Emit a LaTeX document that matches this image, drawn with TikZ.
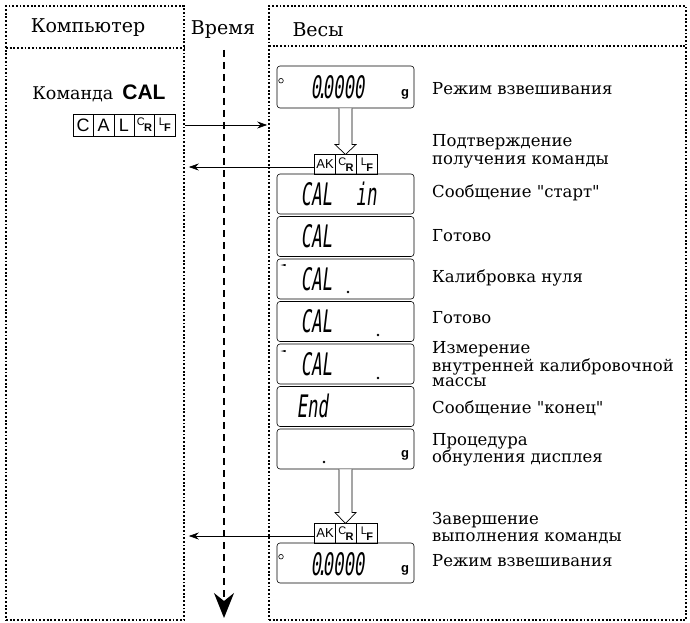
\documentclass[tikz,border=0pt]{standalone}
\usepackage{fontspec}
\setmainfont{DejaVu Serif}[Ligatures=TeXOff]
\newfontfamily\keyfont{Liberation Sans}
\newfontfamily\lcdfont[FakeSlant=0.12,FakeStretch=0.56]{DejaVu Sans Mono}
\usetikzlibrary{arrows.meta,positioning,calc}
\newcommand\ctrlpair[2]{\raisebox{3.5pt}{\fontsize{11}{11}\selectfont#1}\kern-0.8pt\raisebox{-2.5pt}{\fontsize{11}{11}\selectfont\bfseries#2}}

\begin{document}
\begin{tikzpicture}[
  x=1pt,y=-1pt,
  column/.style={draw,line width=1.6pt,dash pattern=on 1.8pt off 1.9pt,inner sep=0pt},
  timeline/.style={line width=1.8pt,dash pattern=on 7pt off 5pt,-{Stealth[length=25pt,width=20pt,inset=8pt]}},
  lcd/.style={draw,rounded corners=3pt,line width=0.6pt,minimum width=137pt,minimum height=40pt,inner sep=0pt},
  lcdtxt/.style={anchor=base west,inner sep=0pt,font=\lcdfont\fontsize{31}{31}\selectfont},
  unit/.style={inner sep=0pt,font=\keyfont\bfseries\fontsize{13}{13}\selectfont},
  key/.style={draw,line width=0.6pt,minimum width=20.4pt,minimum height=22pt,inner sep=0pt,outer sep=0pt,font=\keyfont\fontsize{18}{18}\selectfont},
  ack/.style={draw,line width=0.6pt,minimum width=21pt,minimum height=20pt,inner sep=0pt,outer sep=0pt,font=\keyfont\fontsize{13}{13}\selectfont},
  msg/.style={-{Stealth[length=10pt,width=7pt]},line width=0.7pt},
  hollow/.style={line width=0.7pt,fill=white},
  note/.style={anchor=west,align=left,inner sep=0pt,font=\fontsize{16.5}{18}\selectfont},
  head/.style={inner sep=0pt,font=\fontsize{19}{19}\selectfont}
]
\useasboundingbox (0,0) rectangle (690,623);

% columns
\node[column,minimum width=178pt,minimum height=614pt] (comp) at (95,313) {};
\node[column,minimum width=417pt,minimum height=614pt] (scale) at (477.5,313) {};
\draw[column] (6,48) -- (184,48);
\draw[column] (269,46) -- (686,46);
\node[head] (hcomp) at (88,28) {Компьютер};
\node[head] (htime) at (223,30) {Время};
\node[head] (hscale) at (318,30) {Весы};

% time axis
\coordinate (t0) at (224,50);
\coordinate (t1) at (224,618);
\draw[timeline] (t0) -- (t1);

% command from the computer
\node[inner sep=0pt,font=\fontsize{17.5}{17.5}\selectfont] (cmdtxt) at (99,93) {Команда\hspace{9pt}{\keyfont\bfseries\fontsize{21}{21}\selectfont CAL}};
\node[key] (kC) at (83.2,125) {C};
\node[key,right=0pt of kC] (kA) {A};
\node[key,right=0pt of kA] (kL) {L};
\node[key,right=0pt of kL] (kCR) {\ctrlpair{C}{R}};
\node[key,right=0pt of kCR] (kLF) {\ctrlpair{L}{F}};
\draw[msg,shorten >=1pt] (kLF.east -| comp.east) -- (kLF.east -| scale.west);

% displays of the balance
\node[lcd,minimum height=42pt] (d1) at (345.5,87) {};
\node[lcd] (d2) at (345.5,194) {};
\node[lcd] (d3) at (345.5,236.5) {};
\node[lcd] (d4) at (345.5,279) {};
\node[lcd] (d5) at (345.5,321.5) {};
\node[lcd] (d6) at (345.5,364) {};
\node[lcd] (d7) at (345.5,406.5) {};
\node[lcd] (d8) at (345.5,449) {};
\node[lcd] (d9) at (345.5,563) {};

\draw[line width=0.6pt] ([shift={(-64.5,-6.3)}]d1.center) circle (2.3pt);
\node[lcdtxt] (r1) at ([shift={(-35,12)}]d1.center) {0\kern-4.5pt.\kern-4.5pt0000};
\node[unit] (g1) at ([shift={(59.5,7)}]d1.center) {g};
\node[lcdtxt] (r2) at ([shift={(-45,11)}]d2.center) {CAL};
\node[lcdtxt] (r2b) at ([shift={(10,11)}]d2.center) {in};
\node[lcdtxt] (r3) at ([shift={(-45,11)}]d3.center) {CAL};
\fill ([shift={(-65,-14)}]d4.center) -- ++(5,-1) -- ++(0,2) -- cycle;
\node[lcdtxt] (r4) at ([shift={(-45,11)}]d4.center) {CAL};
\fill ([shift={(2.5,13)}]d4.center) circle (1.3pt);
\node[lcdtxt] (r5) at ([shift={(-45,11)}]d5.center) {CAL};
\fill ([shift={(32.5,13.5)}]d5.center) circle (1.3pt);
\fill ([shift={(-65,-13)}]d6.center) -- ++(5,-1) -- ++(0,2) -- cycle;
\node[lcdtxt] (r6) at ([shift={(-45,11)}]d6.center) {CAL};
\fill ([shift={(32.5,14)}]d6.center) circle (1.3pt);
\node[lcdtxt] (r7) at ([shift={(-49,11)}]d7.center) {End};
\fill ([shift={(-21.5,13)}]d8.center) circle (1.3pt);
\node[unit] (g8) at ([shift={(59.5,6)}]d8.center) {g};
\draw[line width=0.6pt] ([shift={(-64.5,-6.3)}]d9.center) circle (2.3pt);
\node[lcdtxt] (r9) at ([shift={(-35,12)}]d9.center) {0\kern-4.5pt.\kern-4.5pt0000};
\node[unit] (g9) at ([shift={(59.5,7)}]d9.center) {g};

% acknowledgements
\node[ack] (cr1) at (346,164.5) {\ctrlpair{C}{R}};
\node[ack,left=0pt of cr1] (ak1) {\raisebox{-3pt}{AK}};
\node[ack,right=0pt of cr1] (lf1) {\ctrlpair{L}{F}};
\node[ack] (cr2) at (346,533.5) {\ctrlpair{C}{R}};
\node[ack,left=0pt of cr2] (ak2) {\raisebox{-3pt}{AK}};
\node[ack,right=0pt of cr2] (lf2) {\ctrlpair{L}{F}};

\draw[hollow] let \p1=(d1.south), \p2=(cr1.north) in
  (\x1-6.5pt,\y1) -- (\x1-6.5pt,\y2+10pt) -- (\x1-10.5pt,\y2+10pt) -- (\x1,\y2)
  -- (\x1+10.5pt,\y2+10pt) -- (\x1+6.5pt,\y2+10pt) -- (\x1+6.5pt,\y1);
\draw[hollow] let \p1=(d8.south), \p2=(cr2.north) in
  (\x1-6.5pt,\y1) -- (\x1-6.5pt,\y2+11pt) -- (\x1-10.5pt,\y2+11pt) -- (\x1,\y2)
  -- (\x1+10.5pt,\y2+11pt) -- (\x1+6.5pt,\y2+11pt) -- (\x1+6.5pt,\y1);

\draw[msg,shorten >=4pt] ([yshift=-2.5pt]ak1.west) -- ([yshift=-2.5pt]ak1.west -| comp.east);
\draw[msg,shorten >=4pt] ([yshift=-2.5pt]ak2.west) -- ([yshift=-2.5pt]ak2.west -| comp.east);

% explanations
\node[note] (n1) at (432,89) {Режим взвешивания};
\node[note] (n2) at (432,151) {Подтверждение\\получения команды};
\node[note] (n3) at (432,193) {Сообщение "старт"};
\node[note] (n4) at (432,236) {Готово};
\node[note] (n5) at (432,278) {Калибровка нуля};
\node[note] (n6) at (432,318) {Готово};
\node[note,font=\fontsize{16.5}{15}\selectfont] (n7) at (432,364) {Измерение\\внутренней калибровочной\\массы};
\node[note] (n8) at (432,408) {Сообщение "конец"};
\node[note,font=\fontsize{16.5}{15}\selectfont] (n9) at (432,450) {Процедура\\обнуления дисплея};
\node[note,font=\fontsize{16.5}{16.5}\selectfont] (n10) at (432,528) {Завершение\\выполнения команды};
\node[note] (n11) at (432,561) {Режим взвешивания};
\end{tikzpicture}
\end{document}
